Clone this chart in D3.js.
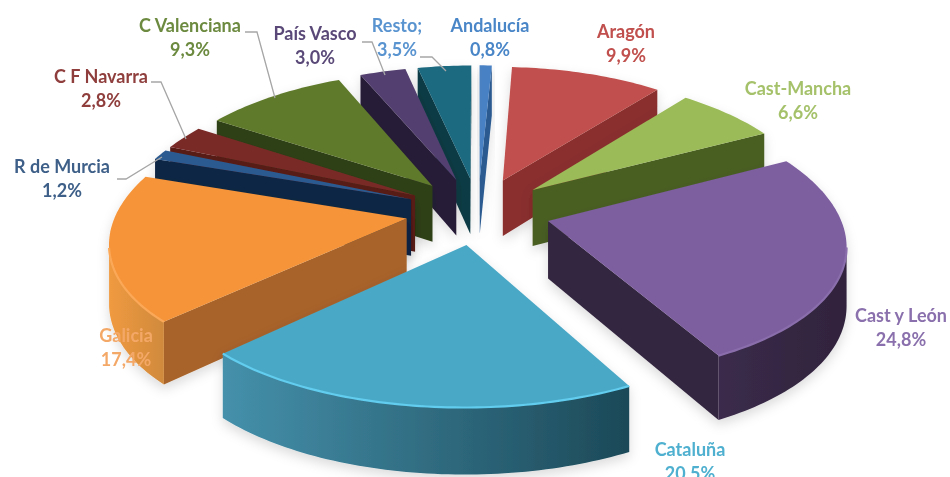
<!DOCTYPE html>
<html><head><meta charset="utf-8">
<script src="https://cdn.jsdelivr.net/npm/d3@7"></script>
<style>html,body{margin:0;background:#fff}svg{display:block}</style></head>
<body><svg id="c" width="950" height="477"></svg>
<script>
const categories=["Andalucía","Aragón","Cast-Mancha","Cast y León","Cataluña","Galicia","R de Murcia","C F Navarra","C Valenciana","País Vasco","Resto;"];
const values=[0.8,9.9,6.6,24.8,20.5,17.4,1.2,2.8,9.3,3.0,3.5];
const valueLabels=["0,8%","9,9%","6,6%","24,8%","20,5%","17,4%","1,2%","2,8%","9,3%","3,0%","3,5%"];
const topColors=["#4a82c4","#c0504d","#9bbb59","#7d5ea0","#4aa8c6","#f59439","#2c5a90","#7a2a28","#5f7a2c","#53406f","#1f6a80"];
const wallColors=["#2a5a90","#8a2f2d","#4a5e22","#33253f","#1d4a5a","#a8642a","#0e2645","#5a1a18","#2f3f14","#271a38","#0c3a44"];
const outerLight=["#3a72b0","#a04040","#5e7530","#3b2b4b","#4590ab","#f09a40","#143058","#66201e","#3c4f1c","#33244a","#114a58"];
const outerDark=["#2a5a90","#8a2f2d","#4a5e22","#30233c","#1c4958","#d08a3c","#0e2645","#5a1a18","#2f3f14","#271a38","#0c3a44"];
const rimColors=["#6a9ee0","#d8706c","#b4d470","#8a6eac","#62cdee","#fba858","#3f74b0","#964040","#7a9a40","#6c5690","#2f8aa4"];
const labelColors=["#4a86c8","#c0504d","#a5c26b","#8a70ac","#4fb0cf","#f4a868","#3d5f88","#8f3e3c","#6c8a3f","#5a4a78","#5a94d0"];

const W=950,H=477;
const svg=d3.select("#c");
const defs=svg.append("defs");
defs.append("filter").attr("id","soft").attr("x","-5%").attr("y","-5%").attr("width","110%").attr("height","110%")
  .append("feGaussianBlur").attr("stdDeviation",0.6);
const shadow=defs.append("filter").attr("id","shadow").attr("x","-20%").attr("y","-20%").attr("width","140%").attr("height","140%");
shadow.append("feDropShadow").attr("dx",0).attr("dy",5).attr("stdDeviation",6).attr("flood-color","#000").attr("flood-opacity",0.14);

// projection of the tilted pie plane
const cx=478,cy=211,rxScale=290,ryScale=134,perspX=0.15,perspY=0.12,explode=0.25,depth=57;
const project=(x,y,z=0)=>{const sx=1/(1+perspX*y),sy=1/(1+perspY*y);return [cx+rxScale*x*sx,cy-ryScale*y*sy+z*depth*sy];};

const pie=d3.pie().sort(null).value(d=>d).startAngle(0).endAngle(2*Math.PI);
const arcs=pie(values).map((a,i)=>{
  const mid=(a.startAngle+a.endAngle)/2;
  const ox=explode*Math.sin(mid),oy=explode*Math.cos(mid);
  const n=Math.max(3,Math.ceil((a.endAngle-a.startAngle)/0.02));
  const pts=d3.range(n+1).map(k=>{const t=a.startAngle+(a.endAngle-a.startAngle)*k/n;return [ox+Math.sin(t),oy+Math.cos(t)];});
  return {i,oy,ox,pts,apex:[ox,oy]};
}).sort((p,q)=>q.oy-p.oy);

const line=d3.line();
const root=svg.append("g").attr("filter","url(#soft)");
const g=root.selectAll("g.slice").data(arcs).join("g").attr("class","slice").attr("filter","url(#shadow)");

g.each(function(d){
  const sel=d3.select(this),c=d.i;
  const top=d.pts.map(p=>project(p[0],p[1]));
  const apex=project(d.apex[0],d.apex[1]);
  const quad=(P,Q)=>line([project(P[0],P[1]),project(Q[0],Q[1]),project(Q[0],Q[1],1),project(P[0],P[1],1)])+"Z";
  const first=d.pts[0],last=d.pts[d.pts.length-1];
  if(top[0][0]<apex[0]) sel.append("path").attr("d",quad(d.apex,first)).attr("fill",wallColors[c]);
  if(apex[0]<top[top.length-1][0]) sel.append("path").attr("d",quad(last,d.apex)).attr("fill",wallColors[c]);
  // outer wall: the part of the rim that faces the viewer
  const front=d.pts.filter((p,k)=>k+1<top.length?top[k+1][0]<top[k][0]:top[k][0]<top[k-1][0]);
  if(front.length>1){
    const upper=front.map(p=>project(p[0],p[1])),lower=front.map(p=>project(p[0],p[1],1)).reverse();
    const xs=d3.extent(upper,p=>p[0]);
    const id="outer"+c;
    const gr=defs.append("linearGradient").attr("id",id).attr("gradientUnits","userSpaceOnUse")
      .attr("x1",xs[0]).attr("x2",xs[1]).attr("y1",0).attr("y2",0);
    gr.append("stop").attr("offset",0).attr("stop-color",outerLight[c]);
    gr.append("stop").attr("offset",1).attr("stop-color",outerDark[c]);
    sel.append("path").attr("d",line(upper.concat(lower))+"Z").attr("fill",`url(#${id})`);
  }
  sel.append("path").attr("d",line([apex,...top])+"Z").attr("fill",topColors[c]);
  const rim=front.map(p=>project(p[0],p[1]));
  if(rim.length>1) sel.append("path").attr("d",line(rim)).attr("fill","none").attr("stroke",rimColors[c]).attr("stroke-width",2.2);
});

// leader lines
const leaders={
  "C Valenciana":[[245,32],[257,32],[275,98]],
  "País Vasco":[[362,42],[372,42],[385,75]],
  "Resto;":[[420,57],[432,57],[446,71]],
  "C F Navarra":[[151,82],[161,82],[186,139]],
  "R de Murcia":[[117,179],[126,179],[162,157]]
};
root.selectAll("path.leader").data(Object.values(leaders)).join("path").attr("class","leader")
  .attr("d",d=>line(d)).attr("fill","none").attr("stroke","#a6a6a6").attr("stroke-width",1.3);

// data labels
const labelAnchor={
  "Andalucía":[490,27],"Aragón":[626,33],"Cast-Mancha":[798,90],"Cast y León":[901,317],
  "Cataluña":[690,451],"Galicia":[126,337],"R de Murcia":[62,168],"C F Navarra":[101,78],
  "C Valenciana":[190,27],"País Vasco":[315,35],"Resto;":[397,27]
};
const lab=root.selectAll("g.lab").data(categories).join("g").attr("class","lab")
  .attr("transform",d=>`translate(${labelAnchor[d]})`)
  .attr("text-anchor","middle").attr("font-family","Lato, 'Open Sans', sans-serif")
  .attr("font-weight",700).attr("font-size",18)
  .attr("fill",(d,i)=>labelColors[i]);
lab.append("text").attr("dominant-baseline","middle").text(d=>d);
lab.append("text").attr("y",24).attr("dominant-baseline","middle").text((d,i)=>valueLabels[i]);
</script></body></html>
